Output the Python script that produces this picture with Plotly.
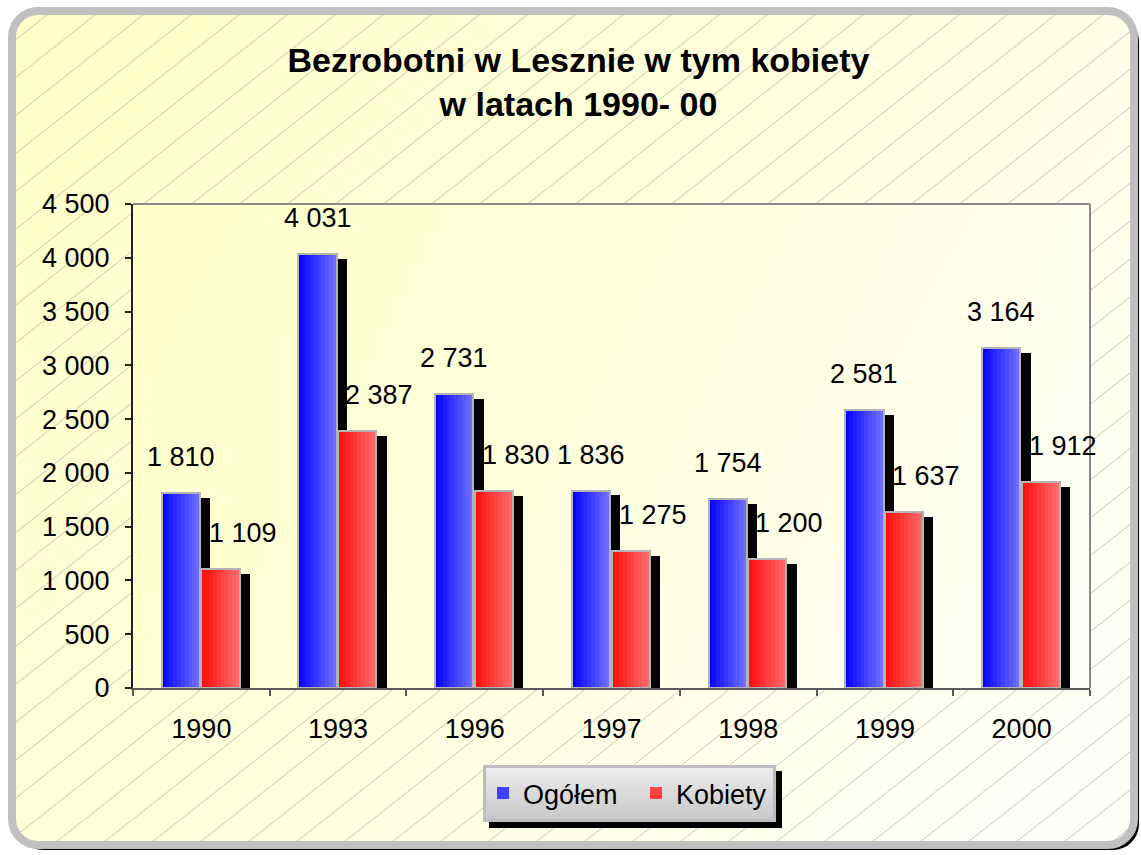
import base64
import plotly.graph_objects as go

# ---------------- data ----------------
years = ["1990", "1993", "1996", "1997", "1998", "1999", "2000"]
ogolem = [1810, 4031, 2731, 1836, 1754, 2581, 3164]
kobiety = [1109, 2387, 1830, 1275, 1200, 1637, 1912]
series_names = ["Ogółem", "Kobiety"]
y_ticks = [0, 500, 1000, 1500, 2000, 2500, 3000, 3500, 4000, 4500]
title_lines = ["Bezrobotni w Lesznie w tym kobiety", "w latach 1990- 00"]

# ---------------- geometry / style ----------------
W, H = 1141, 855
ML, MR, MT, MB = 133, 51, 204, 167
PW = W - ML - MR
PH = H - MT - MB
FONT = "Liberation Sans, Arial, sans-serif"
FS = 27

BAR_W = 0.28
OFFSETS = [-0.29, 0.0]
SHADOW_DX = 0.075          # in category units
SHADOW_DY = 46             # in value units
N_STRIPS = 10
GRAD = [("#0000FF", "#7474FF"), ("#FF0A0A", "#FF7070")]
LABEL_XSHIFT = [0, 22]


def hex2rgb(h):
    h = h.lstrip("#")
    return tuple(int(h[i:i + 2], 16) for i in (0, 2, 4))


def lerp(c1, c2, t):
    a, b = hex2rgb(c1), hex2rgb(c2)
    return "rgb(%d,%d,%d)" % tuple(round(a[i] + (b[i] - a[i]) * t) for i in range(3))


def fmt(v):
    return f"{v:,}".replace(",", " ")


# ---------------- background (svg decoration) ----------------
def background_svg():
    slope = 0.79
    step = 48
    x0 = 39.6 - step * 40
    hatch = []
    while x0 < W + step:
        hatch.append(
            f'<line x1="{x0:.1f}" y1="{H}" x2="{x0 + H / slope:.1f}" y2="0"/>'
        )
        x0 += step
    px0, py0, px1, py1 = ML, MT, W - MR, H - MB
    lx0, ly0, lx1, ly1 = 483, 765, 776, 822
    svg = f'''<svg xmlns="http://www.w3.org/2000/svg" width="{W}" height="{H}" viewBox="0 0 {W} {H}">
<defs>
<linearGradient id="bg" gradientUnits="userSpaceOnUse" x1="0" y1="0" x2="{W}" y2="{H}">
<stop offset="0" stop-color="#FFFFC6"/><stop offset="0.55" stop-color="#FFFFE2"/><stop offset="1" stop-color="#FFFFFB"/>
</linearGradient>
<linearGradient id="pa" gradientUnits="userSpaceOnUse" x1="{px0}" y1="{py0}" x2="{px1}" y2="{py1}">
<stop offset="0" stop-color="#FFFFC8"/><stop offset="0.5" stop-color="#FFFFE0"/><stop offset="1" stop-color="#FFFFF7"/>
</linearGradient>
<linearGradient id="lg" x1="0" y1="0" x2="0" y2="1">
<stop offset="0" stop-color="#EEEEEE"/><stop offset="0.5" stop-color="#DADADA"/><stop offset="1" stop-color="#C8C8C8"/>
</linearGradient>
<clipPath id="cp"><rect x="12" y="11" width="{W - 12 - 7}" height="{845 - 11}" rx="26" ry="26"/></clipPath>
</defs>
<rect x="0" y="0" width="{W}" height="{H}" fill="#FFFFFF"/>
<rect x="17" y="16" width="{W - 12 - 7}" height="{845 - 11}" rx="26" ry="26" fill="#000000"/>
<rect x="12" y="11" width="{W - 12 - 7}" height="{845 - 11}" rx="26" ry="26" fill="url(#bg)"/>
<g clip-path="url(#cp)" stroke="#C8C8B8" stroke-width="1">{''.join(hatch)}</g>
<rect x="12" y="11" width="{W - 12 - 7}" height="{845 - 11}" rx="26" ry="26" fill="none" stroke="#C0C0C0" stroke-width="8"/>
<rect x="{px0}" y="{py0}" width="{px1 - px0}" height="{py1 - py0}" fill="url(#pa)"/>
<line x1="{px0}" y1="{py0}" x2="{px1}" y2="{py0}" stroke="#8A8A8A" stroke-width="2"/>
<line x1="{px1}" y1="{py0}" x2="{px1}" y2="{py1}" stroke="#8A8A8A" stroke-width="2"/>
<rect x="{lx0 + 6}" y="{ly0 + 6}" width="{lx1 - lx0}" height="{ly1 - ly0}" fill="#000000"/>
<rect x="{lx0 + 1.5}" y="{ly0 + 1.5}" width="{lx1 - lx0 - 3}" height="{ly1 - ly0 - 3}" fill="url(#lg)" stroke="#BDBDBD" stroke-width="3"/>
</svg>'''
    return "data:image/svg+xml;base64," + base64.b64encode(svg.encode("utf-8")).decode("ascii")


# ---------------- figure ----------------
fig = go.Figure()
idx = list(range(len(years)))
series_vals = [ogolem, kobiety]

# shadows
for s, vals in enumerate(series_vals):
    fig.add_trace(go.Bar(
        x=idx, y=[v - SHADOW_DY for v in vals], offset=OFFSETS[s] + SHADOW_DX, width=BAR_W,
        marker=dict(color="#000000", line=dict(width=0)),
        showlegend=False, hoverinfo="skip",
    ))

# gradient bars (vertical strips) + outline
for s, vals in enumerate(series_vals):
    sw = BAR_W / N_STRIPS
    for k in range(N_STRIPS):
        col = lerp(GRAD[s][0], GRAD[s][1], (k + 0.5) / N_STRIPS)
        fig.add_trace(go.Bar(
            x=idx, y=vals, offset=OFFSETS[s] + k * sw, width=sw + 0.003,
            marker=dict(color=col, line=dict(width=0)),
            name=series_names[s], legendgroup=series_names[s],
            showlegend=(k == N_STRIPS // 2),
            hovertemplate="%{y}<extra>" + series_names[s] + "</extra>",
        ))
    fig.add_trace(go.Bar(
        x=idx, y=vals, offset=OFFSETS[s], width=BAR_W,
        marker=dict(color="rgba(0,0,0,0)", line=dict(color="#B4B4B4", width=2)),
        showlegend=False, hoverinfo="skip",
    ))

# data labels
for s, vals in enumerate(series_vals):
    for i, v in zip(idx, vals):
        fig.add_annotation(
            x=i + OFFSETS[s] + BAR_W / 2, y=v, text=fmt(v), showarrow=False,
            xanchor="center", yanchor="middle", yshift=36, xshift=LABEL_XSHIFT[s],
            font=dict(family=FONT, size=FS, color="#000000"),
        )

fig.add_layout_image(dict(
    source=background_svg(), xref="paper", yref="paper",
    x=-ML / PW, y=1 + MT / PH, sizex=W / PW, sizey=H / PH,
    xanchor="left", yanchor="top", sizing="stretch", layer="below",
))

fig.update_layout(
    width=W, height=H,
    margin=dict(l=ML, r=MR, t=MT, b=MB, autoexpand=False),
    paper_bgcolor="#FFFFFF", plot_bgcolor="rgba(0,0,0,0)",
    barmode="overlay", bargap=0,
    separators=", ",
    font=dict(family=FONT, size=FS, color="#000000"),
    title=dict(
        text="<b>" + "<br>".join(title_lines) + "</b>",
        x=578.5 / W, xanchor="center", y=1 - 72 / H, yanchor="middle",
        font=dict(family=FONT, size=34, color="#000000"),
    ),
    legend=dict(
        orientation="h", x=(636 - ML) / PW, xanchor="center",
        y=(H - MB - 793.5) / PH, yanchor="middle",
        bgcolor="rgba(0,0,0,0)", borderwidth=0,
        font=dict(family=FONT, size=FS, color="#000000"),
        entrywidth=108, itemsizing="constant",
    ),
    showlegend=True,
)

fig.update_xaxes(
    range=[-0.5, len(years) - 0.5], tickmode="array", tickvals=idx, ticktext=years,
    ticks="outside", ticklen=6, tickcolor="rgba(0,0,0,0)", ticklabelstandoff=10,
    showline=True, linecolor="#5A5A5A", linewidth=2, showgrid=False, zeroline=False,
    minor=dict(ticks="outside", ticklen=6, tickcolor="#5A5A5A", tickwidth=2,
               tickmode="linear", tick0=-0.5, dtick=1, showgrid=False),
    tickfont=dict(family=FONT, size=FS, color="#000000"),
    fixedrange=True,
)
fig.update_yaxes(
    range=[0, 4500], tickmode="array", tickvals=y_ticks, tickformat=",d",
    ticks="outside", ticklen=6, tickcolor="#222222", tickwidth=2, ticklabelstandoff=10,
    showline=True, linecolor="#222222", linewidth=2, showgrid=False, zeroline=False,
    tickfont=dict(family=FONT, size=FS, color="#000000"),
    fixedrange=True,
)

fig.write_html(
    "out.html",
    config={"displayModeBar": False},
    post_script="document.body.style.margin='0';document.body.style.overflow='hidden';",
)
